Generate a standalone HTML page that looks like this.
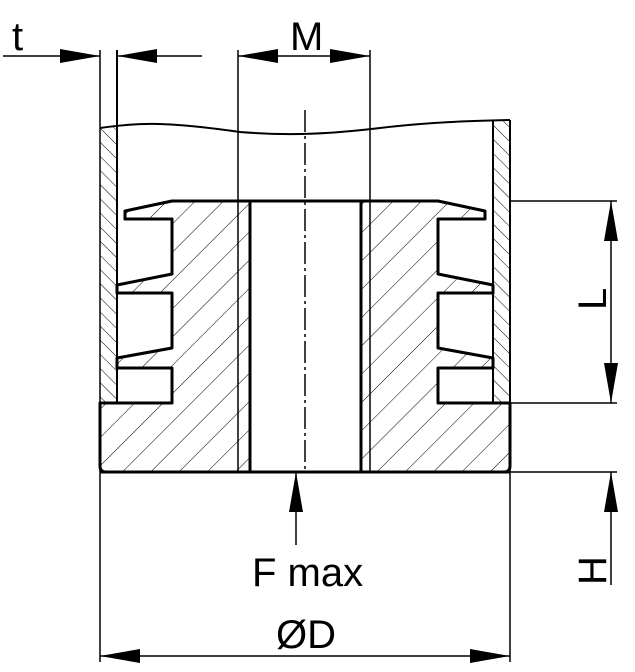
<!DOCTYPE html>
<html><head><style>
html,body{margin:0;padding:0;background:#fff;}
svg{display:block;}
text{font-family:"Liberation Sans",sans-serif;fill:#000;}
</style></head><body>
<svg width="635" height="672" viewBox="0 0 635 672" xmlns="http://www.w3.org/2000/svg">
<defs>
<pattern id="hp" patternUnits="userSpaceOnUse" width="20" height="20" patternTransform="rotate(45)">
<line x1="0" y1="0" x2="0" y2="20" stroke="#000" stroke-width="1"/>
</pattern>
<pattern id="ht" patternUnits="userSpaceOnUse" width="10" height="10" patternTransform="rotate(-45)">
<line x1="0" y1="0" x2="0" y2="10" stroke="#000" stroke-width="1"/>
</pattern>
</defs>
<!-- tubes -->
<path d="M100,127 L117,126 L117,403 L100,403 Z" fill="url(#ht)"/>
<path d="M493,121 L510,120 L510,403 L493,403 Z" fill="url(#ht)"/>
<!-- plug -->
<path id="plug" d="M172,201 L125,211 L125,219 L172,219 L172,274 L117,285 L117,293 L172,293 L172,348 L117,358 L117,368 L172,368 L172,403 L100,403 L100,466 Q100,472 106,472 L504,472 Q510,472 510,466 L510,403 L438,403 L438,368 L493,368 L493,358 L438,348 L438,293 L493,293 L493,285 L438,274 L438,219 L485,219 L485,211 L438,201 Z" fill="url(#hp)" stroke="#000" stroke-width="3" stroke-linejoin="round"/>
<rect x="250" y="201" width="111" height="271" fill="#fff"/>
<g stroke="#000" stroke-width="3">
<line x1="250" y1="201" x2="250" y2="472"/>
<line x1="361" y1="201" x2="361" y2="472"/>
<line x1="172" y1="201" x2="438" y2="201"/>
<line x1="100" y1="472" x2="510" y2="472"/>
</g>
<!-- tube lines -->
<g stroke="#000" stroke-width="2" fill="none">
<line x1="117" y1="50" x2="117" y2="403"/>
<line x1="493" y1="121" x2="493" y2="403"/>
<line x1="510" y1="120" x2="510" y2="403"/>
<path d="M100,128 C140,122 170,122 240,132 C290,136 330,134 380,128 C430,122 470,121 510,120"/>
</g>
<!-- thin lines -->
<g stroke="#000" stroke-width="1.5" fill="none">
<line x1="100" y1="50" x2="100" y2="662"/>
<line x1="510" y1="403" x2="510" y2="662"/>
<line x1="238" y1="50" x2="238" y2="472"/>
<line x1="370" y1="50" x2="370" y2="472"/>
<line x1="305" y1="110" x2="305" y2="472" stroke-dasharray="22,4,3,4"/>
<line x1="3" y1="56" x2="100" y2="56"/>
<line x1="117" y1="56" x2="202" y2="56"/>
<line x1="238" y1="56" x2="370" y2="56"/>
<line x1="510" y1="201" x2="617" y2="201"/>
<line x1="510" y1="403" x2="617" y2="403"/>
<line x1="510" y1="472" x2="617" y2="472"/>
<line x1="611" y1="201" x2="611" y2="403"/>
<line x1="611" y1="472" x2="611" y2="585"/>
<line x1="296" y1="472" x2="296" y2="545"/>
<line x1="100" y1="656" x2="510" y2="656"/>
</g>
<!-- arrows -->
<g fill="#000">
<polygon points="100,56 60,49 60,63"/>
<polygon points="117,56 157,49 157,63"/>
<polygon points="238,56 278,49 278,63"/>
<polygon points="370,56 330,49 330,63"/>
<polygon points="611,201 604,241 618,241"/>
<polygon points="611,403 604,363 618,363"/>
<polygon points="611,472 604,512 618,512"/>
<polygon points="296,472 289,512 303,512"/>
<polygon points="100,656 140,649 140,663"/>
<polygon points="510,656 470,649 470,663"/>
</g>
<!-- labels -->
<text x="12" y="50" font-size="40">t</text>
<text x="290" y="50" font-size="40">M</text>
<text x="252" y="586" font-size="40">F max</text>
<text x="276" y="648" font-size="40">ØD</text>
<text transform="translate(606,310) rotate(-90)" font-size="40">L</text>
<text transform="translate(606,585) rotate(-90)" font-size="40">H</text>
</svg>
</body></html>
